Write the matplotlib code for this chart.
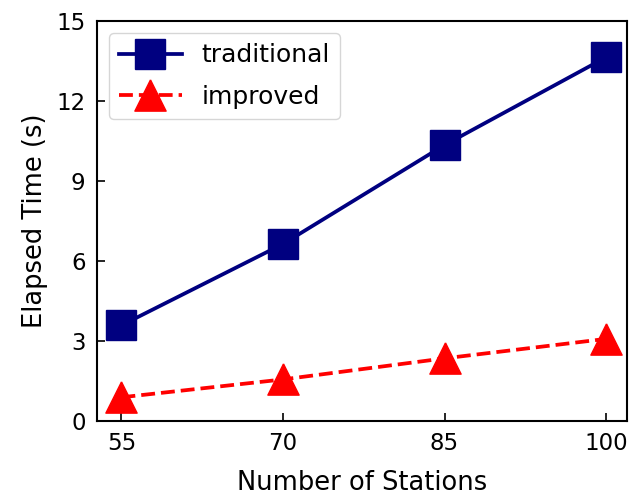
import matplotlib
matplotlib.use("Agg")
import matplotlib.pyplot as plt

stations = [55, 70, 85, 100]
traditional = [3.58, 6.63, 10.34, 13.63]
improved = [0.88, 1.55, 2.34, 3.07]

plt.rcParams['font.family'] = 'DejaVu Sans'

fig = plt.figure(figsize=(6.3, 4.95), dpi=100)
ax = fig.add_axes([0.1535, 0.150, 0.8422, 0.808])

# taller triangle than the default '^'
tri = [(0, 1), (-1, -1), (1, -1), (0, 1)]

ax.plot(stations, traditional, color='navy', marker='s', markersize=21.5,
        linewidth=2.7, linestyle='-', label='traditional')
ax.plot(stations, improved, color='red', marker=tri, markersize=22.5,
        linewidth=2.7, linestyle='--', label='improved')

ax.set_xlim(52.7, 101.97)
ax.set_ylim(0, 15)
ax.set_yticks([0, 3, 6, 9, 12, 15])
ax.set_xticks(stations)
ax.tick_params(direction='in', labelsize=16.5, length=6, width=1.2, pad=8)
for s in ax.spines.values():
    s.set_linewidth(1.5)

ax.set_xlabel('Number of Stations', fontsize=18.5, labelpad=11)
ax.set_ylabel('Elapsed Time (s)', fontsize=18.5, labelpad=6)

ax.legend(loc='upper left', fontsize=18, handlelength=2.5,
          borderpad=0.4, labelspacing=0.7)

fig.savefig('out.png', dpi=100)
